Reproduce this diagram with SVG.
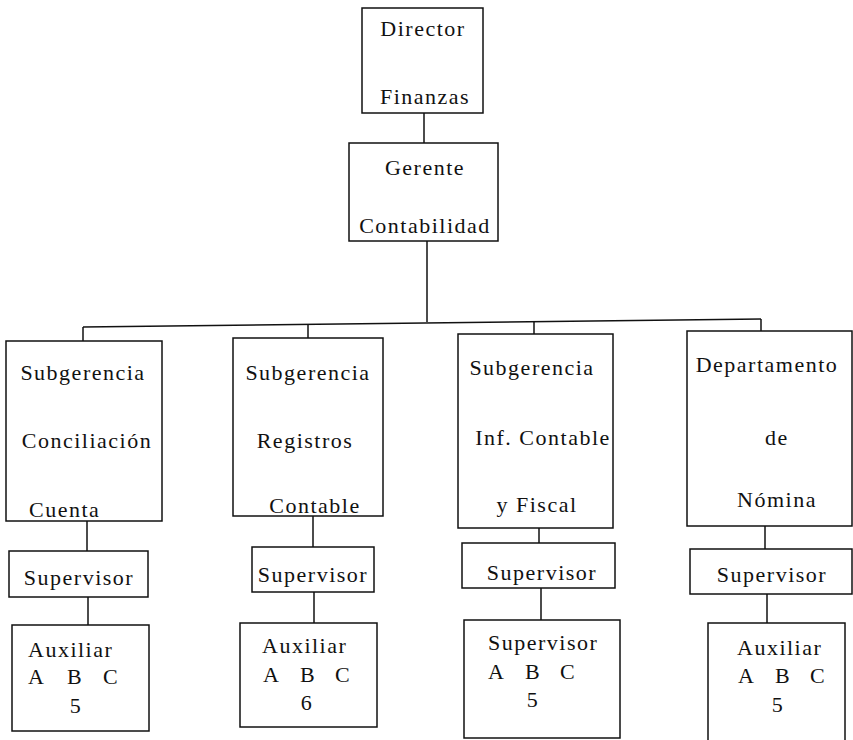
<svg xmlns="http://www.w3.org/2000/svg" width="853" height="740" viewBox="0 0 853 740">
<style>
rect{fill:none;stroke:#111;stroke-width:1.5}
line,path{stroke:#111;stroke-width:1.5;fill:none}
text{font-family:"Liberation Serif","Times New Roman",serif;font-size:22px;letter-spacing:1.5px;fill:#111}
.m{text-anchor:middle}
</style>
<rect width="853" height="740" style="fill:#fff;stroke:none"/>
<g id="connectors">
<line x1="424" y1="113" x2="424" y2="143"/>
<line x1="427" y1="241" x2="427" y2="322"/>
<line x1="83" y1="327" x2="761" y2="319"/>
<line x1="83" y1="327" x2="83" y2="341"/>
<line x1="308" y1="324.5" x2="308" y2="338"/>
<line x1="534" y1="322" x2="534" y2="334"/>
<line x1="761" y1="319" x2="761" y2="331"/>
<line x1="87" y1="521" x2="87" y2="551"/>
<line x1="88" y1="597" x2="88" y2="625"/>
<line x1="313" y1="516" x2="313" y2="547"/>
<line x1="314" y1="592" x2="314" y2="623"/>
<line x1="539" y1="528" x2="539" y2="543"/>
<line x1="541" y1="588" x2="541" y2="620"/>
<line x1="765" y1="526" x2="765" y2="549"/>
<line x1="767" y1="594" x2="767" y2="623"/>
</g>
<g id="director">
<rect x="362" y="8" width="121" height="105"/>
<text class="m" x="423" y="36">Director</text>
<text class="m" x="425" y="104">Finanzas</text>
</g>
<g id="gerente">
<rect x="349" y="143" width="149" height="98"/>
<text class="m" x="425" y="175">Gerente</text>
<text class="m" x="425" y="233">Contabilidad</text>
</g>
<g id="sub-conciliacion">
<rect x="6" y="341" width="156" height="180"/>
<text class="m" x="83" y="380">Subgerencia</text>
<text class="m" x="87" y="448">Conciliación</text>
<text x="29" y="517">Cuenta</text>
</g>
<g id="sub-registros">
<rect x="233" y="338" width="150" height="178"/>
<text class="m" x="308" y="380">Subgerencia</text>
<text class="m" x="305" y="448">Registros</text>
<text class="m" x="315" y="513">Contable</text>
</g>
<g id="sub-informacion">
<rect x="458" y="334" width="155" height="194"/>
<text class="m" x="532" y="375">Subgerencia</text>
<text class="m" x="543" y="445">Inf. Contable</text>
<text class="m" x="537" y="512">y  Fiscal</text>
</g>
<g id="depto-nomina">
<rect x="687" y="331" width="165" height="195"/>
<text class="m" x="767" y="372">Departamento</text>
<text class="m" x="777" y="445">de</text>
<text class="m" x="777" y="507">Nómina</text>
</g>
<g id="supervisor-1">
<rect x="9" y="551" width="139" height="46"/>
<text class="m" x="79" y="585">Supervisor</text>
</g>
<g id="supervisor-2">
<rect x="252" y="547" width="122" height="45"/>
<text class="m" x="313" y="582">Supervisor</text>
</g>
<g id="supervisor-3">
<rect x="462" y="543" width="153" height="45"/>
<text class="m" x="542" y="580">Supervisor</text>
</g>
<g id="supervisor-4">
<rect x="690" y="549" width="162" height="45"/>
<text class="m" x="772" y="582">Supervisor</text>
</g>
<g id="auxiliar-1">
<rect x="12" y="625" width="137" height="106"/>
<text x="28" y="657">Auxiliar</text>
<text x="28" y="684">A</text><text x="67" y="684">B</text><text x="103" y="684">C</text>
<text class="m" x="76" y="713">5</text>
</g>
<g id="auxiliar-2">
<rect x="240" y="623" width="137" height="104"/>
<text x="262" y="653">Auxiliar</text>
<text x="263" y="682">A</text><text x="300" y="682">B</text><text x="335" y="682">C</text>
<text class="m" x="307" y="710">6</text>
</g>
<g id="auxiliar-3">
<rect x="464" y="620" width="156" height="118"/>
<text x="488" y="650">Supervisor</text>
<text x="488" y="679">A</text><text x="525" y="679">B</text><text x="560" y="679">C</text>
<text class="m" x="533" y="707">5</text>
</g>
<g id="auxiliar-4">
<rect x="708" y="623" width="137" height="120"/>
<text x="737" y="655">Auxiliar</text>
<text x="738" y="683">A</text><text x="775" y="683">B</text><text x="810" y="683">C</text>
<text class="m" x="778" y="712">5</text>
</g>
</svg>
